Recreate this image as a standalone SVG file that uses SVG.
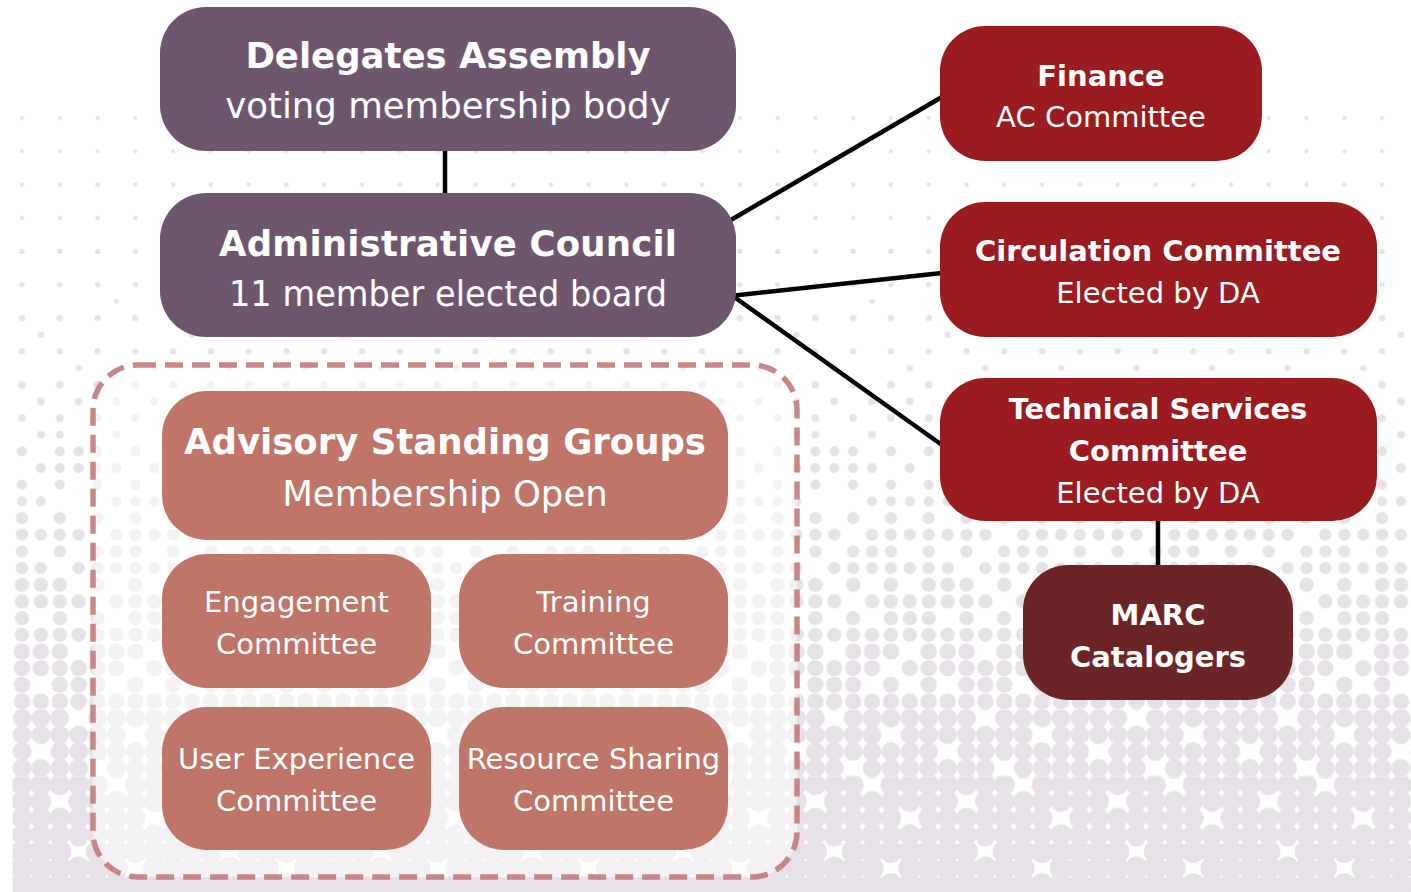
<svg xmlns="http://www.w3.org/2000/svg" xmlns:xlink="http://www.w3.org/1999/xlink" width="1411" height="892" viewBox="0 0 1411 892">
<style>
.dots{fill:#e6e1e6}
.node text{fill:#ffffff;font-family:"DejaVu Sans",Verdana,sans-serif;text-anchor:middle}
.big{font-size:35.5px}
.med{font-size:29px}
.b{font-weight:bold}
.purple{fill:#6e576e}
.red{fill:#9b1c20}
.dark{fill:#6b2527}
.salmon{fill:#c07569}
.conn line{stroke:#000;stroke-width:4.5}
</style>
<defs>
<g id="g9" class="dots">
<circle cx="9.44" cy="8.34" r="9.4"/><circle cx="28.33" cy="8.34" r="9.4"/><circle cx="47.22" cy="8.34" r="9.4"/><circle cx="85" cy="8.34" r="9.4"/><circle cx="103.89" cy="8.34" r="9.4"/><circle cx="122.78" cy="8.34" r="9.4"/><circle cx="141.67" cy="8.34" r="9.4"/>
<circle cx="9.44" cy="25" r="9.4"/><circle cx="28.33" cy="25" r="9.4"/><circle cx="47.22" cy="25" r="9.4"/><circle cx="66.11" cy="25" r="9.4"/><circle cx="85" cy="25" r="9.4"/><circle cx="103.89" cy="25" r="9.4"/><circle cx="141.67" cy="25" r="9.4"/>
<circle cx="9.44" cy="41.67" r="9.4"/><circle cx="47.22" cy="41.67" r="9.4"/><circle cx="66.11" cy="41.67" r="9.4"/><circle cx="85" cy="41.67" r="9.4"/><circle cx="103.89" cy="41.67" r="9.4"/><circle cx="122.78" cy="41.67" r="9.4"/><circle cx="141.67" cy="41.67" r="9.4"/>
<circle cx="9.44" cy="58.34" r="9.4"/><circle cx="28.33" cy="58.34" r="9.4"/><circle cx="47.22" cy="58.34" r="9.4"/><circle cx="66.11" cy="58.34" r="9.4"/><circle cx="103.89" cy="58.34" r="9.4"/><circle cx="122.78" cy="58.34" r="9.4"/><circle cx="141.67" cy="58.34" r="9.4"/>
</g>
<g id="g10" class="dots">
<circle cx="9.44" cy="8.34" r="10.5"/><circle cx="28.33" cy="8.34" r="10.5"/><circle cx="47.22" cy="8.34" r="10.5"/><circle cx="66.11" cy="8.34" r="10.5"/><circle cx="85" cy="8.34" r="10.5"/><circle cx="122.78" cy="8.34" r="10.5"/><circle cx="141.67" cy="8.34" r="10.5"/>
<circle cx="9.44" cy="25" r="10.5"/><circle cx="28.33" cy="25" r="10.5"/><circle cx="66.11" cy="25" r="10.5"/><circle cx="85" cy="25" r="10.5"/><circle cx="103.89" cy="25" r="10.5"/><circle cx="122.78" cy="25" r="10.5"/><circle cx="141.67" cy="25" r="10.5"/>
<circle cx="9.44" cy="41.67" r="10.5"/><circle cx="28.33" cy="41.67" r="10.5"/><circle cx="47.22" cy="41.67" r="10.5"/><circle cx="66.11" cy="41.67" r="10.5"/><circle cx="85" cy="41.67" r="10.5"/><circle cx="103.89" cy="41.67" r="10.5"/><circle cx="122.78" cy="41.67" r="10.5"/>
<circle cx="9.44" cy="58.34" r="10.5"/><circle cx="28.33" cy="58.34" r="10.5"/><circle cx="47.22" cy="58.34" r="10.5"/><circle cx="66.11" cy="58.34" r="10.5"/><circle cx="85" cy="58.34" r="10.5"/><circle cx="103.89" cy="58.34" r="10.5"/><circle cx="122.78" cy="58.34" r="10.5"/><circle cx="141.67" cy="58.34" r="10.5"/>
</g>
<g id="g11" class="dots">
<circle cx="9.44" cy="8.34" r="11.6"/><circle cx="28.33" cy="8.34" r="11.6"/><circle cx="47.22" cy="8.34" r="11.6"/><circle cx="85" cy="8.34" r="11.6"/><circle cx="103.89" cy="8.34" r="11.6"/><circle cx="122.78" cy="8.34" r="11.6"/><circle cx="141.67" cy="8.34" r="11.6"/>
<circle cx="9.44" cy="25" r="11.6"/><circle cx="28.33" cy="25" r="11.6"/><circle cx="47.22" cy="25" r="11.6"/><circle cx="66.11" cy="25" r="11.6"/><circle cx="85" cy="25" r="11.6"/><circle cx="103.89" cy="25" r="11.6"/><circle cx="141.67" cy="25" r="11.6"/>
<circle cx="9.44" cy="41.67" r="11.6"/><circle cx="28.33" cy="41.67" r="11.6"/><circle cx="47.22" cy="41.67" r="11.6"/><circle cx="66.11" cy="41.67" r="11.6"/><circle cx="85" cy="41.67" r="11.6"/><circle cx="103.89" cy="41.67" r="11.6"/><circle cx="122.78" cy="41.67" r="11.6"/><circle cx="141.67" cy="41.67" r="11.6"/>
<circle cx="9.44" cy="58.34" r="11.6"/><circle cx="28.33" cy="58.34" r="11.6"/><circle cx="47.22" cy="58.34" r="11.6"/><circle cx="66.11" cy="58.34" r="11.6"/><circle cx="85" cy="58.34" r="11.6"/><circle cx="103.89" cy="58.34" r="11.6"/><circle cx="122.78" cy="58.34" r="11.6"/><circle cx="141.67" cy="58.34" r="11.6"/>
</g>
<pattern id="p0" patternUnits="userSpaceOnUse" x="12.555" y="109.665" width="151.12" height="66.68"><g class="dots">
<circle cx="9.44" cy="8.34" r="2.1"/><circle cx="47.22" cy="8.34" r="2.1"/><circle cx="85" cy="8.34" r="2.1"/><circle cx="122.78" cy="8.34" r="2.1"/>
<circle cx="9.44" cy="41.67" r="2.1"/><circle cx="47.22" cy="41.67" r="2.1"/><circle cx="85" cy="41.67" r="2.1"/><circle cx="122.78" cy="41.67" r="2.1"/></g></pattern>
<pattern id="p1" patternUnits="userSpaceOnUse" x="12.555" y="109.665" width="151.12" height="66.68"><g class="dots">
<circle cx="9.44" cy="8.34" r="2.3"/><circle cx="47.22" cy="8.34" r="2.3"/><circle cx="85" cy="8.34" r="2.3"/><circle cx="122.78" cy="8.34" r="2.3"/>
<circle cx="9.44" cy="41.67" r="2.3"/><circle cx="47.22" cy="41.67" r="2.3"/><circle cx="85" cy="41.67" r="2.3"/><circle cx="122.78" cy="41.67" r="2.3"/></g></pattern>
<pattern id="p2" patternUnits="userSpaceOnUse" x="12.555" y="109.665" width="151.12" height="66.68"><g class="dots">
<circle cx="9.44" cy="8.34" r="2.7"/><circle cx="47.22" cy="8.34" r="2.7"/><circle cx="85" cy="8.34" r="2.7"/><circle cx="122.78" cy="8.34" r="2.7"/>
<circle cx="9.44" cy="41.67" r="2.7"/><circle cx="47.22" cy="41.67" r="2.7"/><circle cx="85" cy="41.67" r="2.7"/><circle cx="122.78" cy="41.67" r="2.7"/>
<circle cx="103.89" cy="58.34" r="2.7"/></g></pattern>
<pattern id="p3" patternUnits="userSpaceOnUse" x="12.555" y="109.665" width="151.12" height="66.68"><g class="dots">
<circle cx="9.44" cy="8.34" r="3.2"/><circle cx="47.22" cy="8.34" r="3.2"/><circle cx="85" cy="8.34" r="3.2"/><circle cx="122.78" cy="8.34" r="3.2"/>
<circle cx="9.44" cy="41.67" r="3.2"/><circle cx="47.22" cy="41.67" r="3.2"/><circle cx="85" cy="41.67" r="3.2"/><circle cx="122.78" cy="41.67" r="3.2"/>
<circle cx="28.33" cy="25" r="3.2"/><circle cx="141.67" cy="58.34" r="3.2"/><circle cx="66.11" cy="58.34" r="3.2"/></g></pattern>
<pattern id="p4" patternUnits="userSpaceOnUse" x="12.555" y="109.665" width="151.12" height="66.68"><g class="dots">
<circle cx="9.44" cy="8.34" r="3.9"/><circle cx="47.22" cy="8.34" r="3.9"/><circle cx="85" cy="8.34" r="3.9"/><circle cx="122.78" cy="8.34" r="3.9"/>
<circle cx="9.44" cy="41.67" r="3.9"/><circle cx="47.22" cy="41.67" r="3.9"/><circle cx="85" cy="41.67" r="3.9"/><circle cx="122.78" cy="41.67" r="3.9"/>
<circle cx="28.33" cy="25" r="3.9"/><circle cx="66.11" cy="25" r="3.9"/><circle cx="103.89" cy="25" r="3.9"/><circle cx="141.67" cy="25" r="3.9"/>
<circle cx="28.33" cy="58.34" r="3.9"/><circle cx="103.89" cy="58.34" r="3.9"/><circle cx="47.22" cy="58.34" r="3.9"/></g></pattern>
<pattern id="p5" patternUnits="userSpaceOnUse" x="12.555" y="109.665" width="151.12" height="66.68"><g class="dots">
<circle cx="9.44" cy="8.34" r="5"/><circle cx="47.22" cy="8.34" r="5"/><circle cx="85" cy="8.34" r="5"/><circle cx="122.78" cy="8.34" r="5"/><circle cx="66.11" cy="8.34" r="5"/>
<circle cx="9.44" cy="41.67" r="5"/><circle cx="47.22" cy="41.67" r="5"/><circle cx="85" cy="41.67" r="5"/><circle cx="122.78" cy="41.67" r="5"/>
<circle cx="28.33" cy="25" r="5"/><circle cx="66.11" cy="25" r="5"/><circle cx="103.89" cy="25" r="5"/><circle cx="141.67" cy="25" r="5"/><circle cx="85" cy="25" r="5"/><circle cx="47.22" cy="25" r="5"/>
<circle cx="28.33" cy="58.34" r="5"/><circle cx="103.89" cy="58.34" r="5"/><circle cx="141.67" cy="58.34" r="5"/><circle cx="9.44" cy="58.34" r="5"/><circle cx="122.78" cy="58.34" r="5"/></g></pattern>
<pattern id="p6" patternUnits="userSpaceOnUse" x="12.555" y="109.665" width="151.12" height="66.68"><g class="dots">
<circle cx="9.44" cy="8.34" r="6.2"/><circle cx="47.22" cy="8.34" r="6.2"/><circle cx="85" cy="8.34" r="6.2"/><circle cx="122.78" cy="8.34" r="6.2"/>
<circle cx="9.44" cy="41.67" r="6.2"/><circle cx="47.22" cy="41.67" r="6.2"/><circle cx="85" cy="41.67" r="6.2"/><circle cx="122.78" cy="41.67" r="6.2"/><circle cx="103.89" cy="41.67" r="6.2"/>
<circle cx="9.44" cy="25" r="6.2"/><circle cx="28.33" cy="25" r="6.2"/><circle cx="47.22" cy="25" r="6.2"/><circle cx="66.11" cy="25" r="6.2"/><circle cx="103.89" cy="25" r="6.2"/><circle cx="122.78" cy="25" r="6.2"/><circle cx="141.67" cy="25" r="6.2"/>
<circle cx="9.44" cy="58.34" r="6.2"/><circle cx="28.33" cy="58.34" r="6.2"/><circle cx="66.11" cy="58.34" r="6.2"/><circle cx="85" cy="58.34" r="6.2"/><circle cx="103.89" cy="58.34" r="6.2"/><circle cx="122.78" cy="58.34" r="6.2"/><circle cx="141.67" cy="58.34" r="6.2"/></g></pattern>
<pattern id="p7" patternUnits="userSpaceOnUse" x="12.555" y="109.665" width="151.12" height="66.68"><g class="dots">
<circle cx="9.44" cy="8.34" r="7.2"/><circle cx="28.33" cy="8.34" r="7.2"/><circle cx="47.22" cy="8.34" r="7.2"/><circle cx="85" cy="8.34" r="7.2"/><circle cx="122.78" cy="8.34" r="7.2"/>
<circle cx="9.44" cy="41.67" r="7.2"/><circle cx="47.22" cy="41.67" r="7.2"/><circle cx="85" cy="41.67" r="7.2"/><circle cx="122.78" cy="41.67" r="7.2"/><circle cx="141.67" cy="41.67" r="7.2"/>
<circle cx="9.44" cy="25" r="7.2"/><circle cx="28.33" cy="25" r="7.2"/><circle cx="47.22" cy="25" r="7.2"/><circle cx="66.11" cy="25" r="7.2"/><circle cx="103.89" cy="25" r="7.2"/><circle cx="122.78" cy="25" r="7.2"/><circle cx="141.67" cy="25" r="7.2"/>
<circle cx="9.44" cy="58.34" r="7.2"/><circle cx="28.33" cy="58.34" r="7.2"/><circle cx="47.22" cy="58.34" r="7.2"/><circle cx="66.11" cy="58.34" r="7.2"/><circle cx="85" cy="58.34" r="7.2"/><circle cx="103.89" cy="58.34" r="7.2"/><circle cx="122.78" cy="58.34" r="7.2"/><circle cx="141.67" cy="58.34" r="7.2"/></g></pattern>
<pattern id="p8" patternUnits="userSpaceOnUse" x="12.555" y="109.665" width="151.12" height="66.68"><g class="dots">
<circle cx="9.44" cy="8.34" r="8.2"/><circle cx="28.33" cy="8.34" r="8.2"/><circle cx="47.22" cy="8.34" r="8.2"/><circle cx="85" cy="8.34" r="8.2"/><circle cx="103.89" cy="8.34" r="8.2"/><circle cx="122.78" cy="8.34" r="8.2"/>
<circle cx="9.44" cy="41.67" r="8.2"/><circle cx="47.22" cy="41.67" r="8.2"/><circle cx="66.11" cy="41.67" r="8.2"/><circle cx="85" cy="41.67" r="8.2"/><circle cx="122.78" cy="41.67" r="8.2"/>
<circle cx="9.44" cy="25" r="8.2"/><circle cx="28.33" cy="25" r="8.2"/><circle cx="47.22" cy="25" r="8.2"/><circle cx="66.11" cy="25" r="8.2"/><circle cx="85" cy="25" r="8.2"/><circle cx="103.89" cy="25" r="8.2"/><circle cx="141.67" cy="25" r="8.2"/>
<circle cx="9.44" cy="58.34" r="8.2"/><circle cx="28.33" cy="58.34" r="8.2"/><circle cx="47.22" cy="58.34" r="8.2"/><circle cx="66.11" cy="58.34" r="8.2"/><circle cx="85" cy="58.34" r="8.2"/><circle cx="103.89" cy="58.34" r="8.2"/><circle cx="122.78" cy="58.34" r="8.2"/><circle cx="141.67" cy="58.34" r="8.2"/></g></pattern>
<pattern id="p9" patternUnits="userSpaceOnUse" x="12.555" y="109.665" width="151.12" height="66.68">
<use href="#g9"/><use href="#g9" x="151.12"/><use href="#g9" x="-151.12"/><use href="#g9" y="66.68"/><use href="#g9" y="-66.68"/><use href="#g9" x="151.12" y="66.68"/><use href="#g9" x="-151.12" y="66.68"/><use href="#g9" x="151.12" y="-66.68"/><use href="#g9" x="-151.12" y="-66.68"/></pattern>
<pattern id="p10" patternUnits="userSpaceOnUse" x="12.555" y="109.665" width="151.12" height="66.68">
<use href="#g10"/><use href="#g10" x="151.12"/><use href="#g10" x="-151.12"/><use href="#g10" y="66.68"/><use href="#g10" y="-66.68"/><use href="#g10" x="151.12" y="66.68"/><use href="#g10" x="-151.12" y="66.68"/><use href="#g10" x="151.12" y="-66.68"/><use href="#g10" x="-151.12" y="-66.68"/></pattern>
<pattern id="p11" patternUnits="userSpaceOnUse" x="12.555" y="109.665" width="151.12" height="66.68">
<use href="#g11"/><use href="#g11" x="151.12"/><use href="#g11" x="-151.12"/><use href="#g11" y="66.68"/><use href="#g11" y="-66.68"/><use href="#g11" x="151.12" y="66.68"/><use href="#g11" x="-151.12" y="66.68"/><use href="#g11" x="151.12" y="-66.68"/><use href="#g11" x="-151.12" y="-66.68"/></pattern>
</defs>
<rect width="1411" height="892" fill="#ffffff"/>
<g id="background">
<rect x="12.555" y="109.665" width="1398.5" height="66.68" fill="url(#p0)"/>
<rect x="12.555" y="176.345" width="1398.5" height="66.68" fill="url(#p1)"/>
<rect x="12.555" y="243.025" width="1398.5" height="66.68" fill="url(#p2)"/>
<rect x="12.555" y="309.705" width="1398.5" height="66.68" fill="url(#p3)"/>
<rect x="12.555" y="376.385" width="1398.5" height="66.68" fill="url(#p4)"/>
<rect x="12.555" y="443.065" width="1398.5" height="66.68" fill="url(#p5)"/>
<rect x="12.555" y="509.745" width="1398.5" height="66.68" fill="url(#p6)"/>
<rect x="12.555" y="576.425" width="1398.5" height="66.68" fill="url(#p7)"/>
<rect x="12.555" y="643.105" width="1398.5" height="66.68" fill="url(#p8)"/>
<rect x="12.555" y="709.785" width="1398.5" height="66.68" fill="url(#p9)"/>
<rect x="12.555" y="776.465" width="1398.5" height="66.68" fill="url(#p10)"/>
<rect x="12.555" y="843.145" width="1398.5" height="48.855" fill="url(#p11)"/>
</g>
<g id="advisory-frame">
<rect x="93" y="365" width="704" height="512" rx="45" fill="#ffffff" fill-opacity="0.52" stroke="#c27b7d" stroke-opacity="0.9" stroke-width="5.5" stroke-dasharray="18 9"/>
</g>
<g id="connectors" class="conn">
<line x1="445" y1="150" x2="445" y2="195"/>
<line x1="700" y1="238" x2="942" y2="97"/>
<line x1="730" y1="296" x2="942" y2="273"/>
<line x1="730" y1="294" x2="942" y2="445"/>
<line x1="1158" y1="520" x2="1158" y2="566"/>
</g>
<g id="delegates-assembly" class="node">
<rect class="purple" x="160" y="7" width="576" height="144" rx="46"/>
<text class="big b" x="448" y="68">Delegates Assembly</text>
<text class="big" x="448" y="118">voting membership body</text>
</g>
<g id="administrative-council" class="node">
<rect class="purple" x="160" y="193" width="576" height="144" rx="46"/>
<text class="big b" x="448" y="256" textLength="458" lengthAdjust="spacing">Administrative Council</text>
<text class="big" x="448" y="306" textLength="438" lengthAdjust="spacingAndGlyphs">11 member elected board</text>
</g>
<g id="finance" class="node">
<rect class="red" x="940" y="26" width="322" height="135" rx="45"/>
<text class="med b" x="1101" y="86">Finance</text>
<text class="med" x="1101" y="127">AC Committee</text>
</g>
<g id="circulation" class="node">
<rect class="red" x="940" y="202" width="437" height="135" rx="45"/>
<text class="med b" x="1158" y="261">Circulation Committee</text>
<text class="med" x="1158" y="303">Elected by DA</text>
</g>
<g id="technical-services" class="node">
<rect class="red" x="940" y="378" width="437" height="143" rx="45"/>
<text class="med b" x="1158" y="419">Technical Services</text>
<text class="med b" x="1158" y="461">Committee</text>
<text class="med" x="1158" y="503">Elected by DA</text>
</g>
<g id="marc-catalogers" class="node">
<rect class="dark" x="1023" y="565" width="270" height="135" rx="45"/>
<text class="med b" x="1158" y="625">MARC</text>
<text class="med b" x="1158" y="667">Catalogers</text>
</g>
<g id="advisory-standing-groups" class="node">
<rect class="salmon" x="162" y="391" width="566" height="149" rx="45"/>
<text class="big b" x="445" y="454">Advisory Standing Groups</text>
<text class="big" x="445" y="506">Membership Open</text>
</g>
<g id="engagement" class="node">
<rect class="salmon" x="162" y="554" width="269" height="134" rx="45"/>
<text class="med" x="296.5" y="612">Engagement</text>
<text class="med" x="296.5" y="654">Committee</text>
</g>
<g id="training" class="node">
<rect class="salmon" x="459" y="554" width="269" height="134" rx="45"/>
<text class="med" x="593.5" y="612">Training</text>
<text class="med" x="593.5" y="654">Committee</text>
</g>
<g id="user-experience" class="node">
<rect class="salmon" x="162" y="707" width="269" height="143" rx="45"/>
<text class="med" x="296.5" y="769">User Experience</text>
<text class="med" x="296.5" y="811">Committee</text>
</g>
<g id="resource-sharing" class="node">
<rect class="salmon" x="459" y="707" width="269" height="143" rx="45"/>
<text class="med" x="593.5" y="769">Resource Sharing</text>
<text class="med" x="593.5" y="811">Committee</text>
</g>
</svg>
